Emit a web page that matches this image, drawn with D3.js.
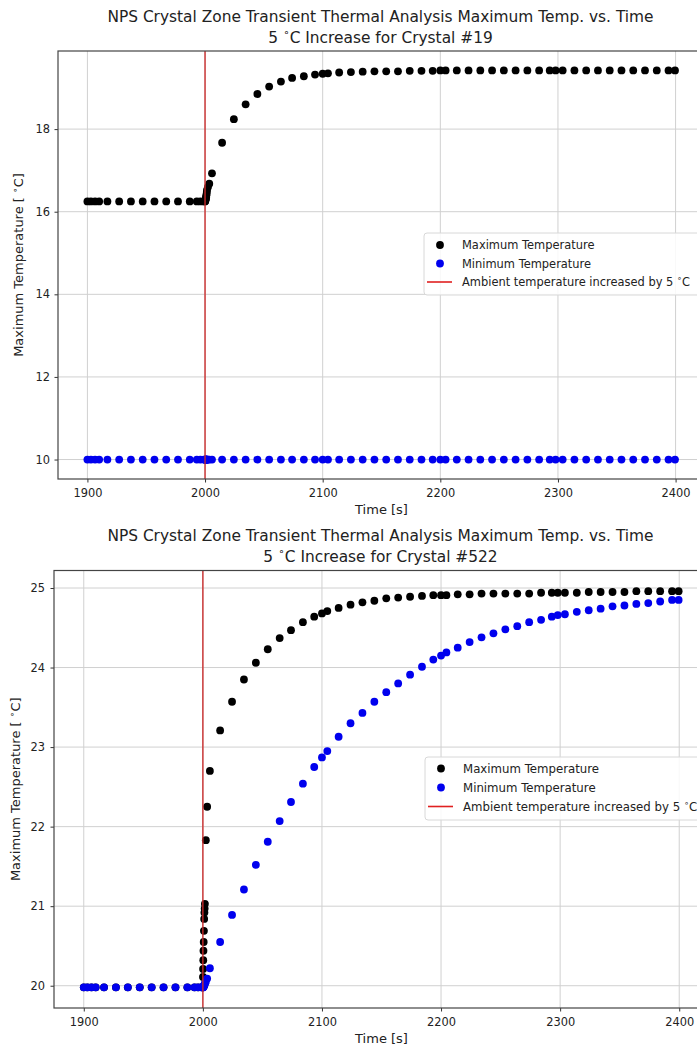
<!DOCTYPE html>
<html><head><meta charset="utf-8">
<script src="https://cdn.jsdelivr.net/npm/d3@7"></script>
<style>
html,body{margin:0;padding:0;background:#fff;}
svg{display:block;font-family:"DejaVu Sans",sans-serif;}
</style></head>
<body>
<svg id="chart" width="697" height="1048"></svg>
<script>
// ---------- data ----------
const times = [
1900, 1903, 1906.5, 1910, 1917, 1927, 1937, 1947, 1957, 1967, 1977, 1987, 1993, 1996, 1999,
2000, 2000.1, 2000.2, 2000.35, 2000.5, 2000.7, 2000.9, 2001.1, 2001.3, 2001.5, 2001.7, 2002.5, 2003.6, 2005.9, 2014.5, 2024.5, 2034.5, 2044.5, 2054.5, 2064.5, 2074, 2084, 2093.5,
2100, 2104.5, 2114, 2124, 2134, 2144, 2154, 2164, 2174, 2184, 2193.5,
2200, 2204.5, 2214, 2224, 2234, 2244, 2254, 2264, 2274, 2284, 2293, 2298,
2304, 2314, 2324, 2334, 2344, 2354, 2364, 2374, 2384, 2394, 2399.5
];
const crystal19Max = [
16.25,16.25,16.25,16.25,16.25,16.25,16.25,16.25,16.25,16.25,16.25,16.25,16.25,16.25,16.25,
16.25,16.26,16.27,16.28,16.30,16.32,16.35,16.39,16.43,16.48,16.53,16.60,16.68,16.93,17.67,18.24,18.60,18.85,19.03,19.15,19.24,19.28,19.32,
19.34,19.35,19.37,19.38,19.39,19.40,19.40,19.40,19.41,19.41,19.41,
19.42,19.42,19.42,19.42,19.42,19.42,19.42,19.42,19.42,19.42,19.42,19.42,
19.42,19.42,19.42,19.42,19.42,19.42,19.42,19.42,19.42,19.42,19.42
];
const crystal19Min = [
10,10,10,10,10,10,10,10,10,10,10,10,10,10,10,
10,10,10,10,10,10,10,10,10,10,10,10,10,10,10,10,10,10,10,10,10,10,10,
10,10,10,10,10,10,10,10,10,10,10,
10,10,10,10,10,10,10,10,10,10,10,10,
10,10,10,10,10,10,10,10,10,10,10
];
const crystal522Max = [
19.98,19.98,19.98,19.98,19.98,19.98,19.98,19.98,19.98,19.98,19.98,19.98,19.98,19.98,19.98,
19.98,20.11,20.21,20.32,20.44,20.55,20.69,20.84,20.92,20.97,21.03,21.83,22.25,22.70,23.21,23.57,23.85,24.06,24.23,24.37,24.47,24.57,24.64,
24.68,24.71,24.75,24.79,24.82,24.84,24.87,24.88,24.89,24.90,24.91,
24.91,24.91,24.92,24.92,24.93,24.93,24.93,24.93,24.93,24.94,24.94,24.94,
24.94,24.94,24.95,24.95,24.95,24.95,24.96,24.96,24.96,24.96,24.96
];
const crystal522Min = [
19.98,19.98,19.98,19.98,19.98,19.98,19.98,19.98,19.98,19.98,19.98,19.98,19.98,19.98,19.98,
19.98,19.98,19.98,19.98,19.99,19.99,20.00,20.00,20.01,20.02,20.03,20.05,20.09,20.22,20.55,20.89,21.21,21.52,21.81,22.07,22.31,22.54,22.75,
22.87,22.95,23.13,23.30,23.43,23.57,23.69,23.80,23.91,24.01,24.10,
24.15,24.19,24.25,24.32,24.38,24.43,24.48,24.52,24.57,24.60,24.64,24.66,
24.67,24.70,24.72,24.74,24.77,24.78,24.80,24.81,24.83,24.85,24.85
];
const xTicks = [1900, 2000, 2100, 2200, 2300, 2400];
const yTicks19 = [10, 12, 14, 16, 18];
const yTicks522 = [20, 21, 22, 23, 24, 25];
const ambientStep = 2000;
const titleLine1 = "NPS Crystal Zone Transient Thermal Analysis Maximum Temp. vs. Time";
const crystals = ["#19", "#522"];
const legendLabels = ["Maximum Temperature", "Minimum Temperature", "Ambient temperature increased by 5"];

// ---------- drawing ----------
const svg = d3.select("#chart");
const FONT = "DejaVu Sans, sans-serif";

function degText(sel, fs, pre, post) {
  const up = fs * 0.42;
  sel.append("tspan").text(pre);
  sel.append("tspan").attr("font-size", fs * 0.7).attr("dy", -up).text("\u2218");
  sel.append("tspan").attr("dy", up).text(post);
}

function panel(cfg) {
  const x = d3.scaleLinear().domain([1875, 2425]).range([cfg.left, cfg.right]);
  const y = d3.scaleLinear().domain(cfg.yDomain).range([cfg.bottom, cfg.top]);
  const g = svg.append("g");

  // titles
  const cx = (cfg.left + cfg.right) / 2;
  const TFS = 15.4;
  g.append("text").attr("x", cx - 1).attr("y", cfg.titleY).attr("text-anchor", "middle")
    .attr("font-size", TFS).attr("fill", "#222").text(titleLine1);
  const t2 = g.append("text").attr("x", cx - 1).attr("y", cfg.titleY + 21).attr("text-anchor", "middle")
    .attr("font-size", TFS).attr("fill", "#222");
  degText(t2, TFS, "5 ", "C Increase for Crystal " + cfg.crystal);

  // grid
  g.append("g").selectAll("line").data(xTicks).join("line")
    .attr("x1", d => x(d)).attr("x2", d => x(d)).attr("y1", cfg.top).attr("y2", cfg.bottom)
    .attr("stroke", "#d0d0d0").attr("stroke-width", 1);
  g.append("g").selectAll("line").data(cfg.yTicks).join("line")
    .attr("y1", d => y(d)).attr("y2", d => y(d)).attr("x1", cfg.left).attr("x2", cfg.right)
    .attr("stroke", "#d0d0d0").attr("stroke-width", 1);

  // points
  const ptsMax = times.map((t, i) => [t, cfg.max[i]]);
  const ptsMin = times.map((t, i) => [t, cfg.min[i]]);
  g.append("g").selectAll("circle").data(ptsMax).join("circle")
    .attr("cx", d => x(d[0])).attr("cy", d => y(d[1])).attr("r", 3.9).attr("fill", "#000");
  g.append("g").selectAll("circle").data(ptsMin).join("circle")
    .attr("cx", d => x(d[0])).attr("cy", d => y(d[1])).attr("r", 3.9).attr("fill", "#0000ee");

  // ambient line
  g.append("line").attr("x1", x(ambientStep)).attr("x2", x(ambientStep))
    .attr("y1", cfg.top).attr("y2", cfg.bottom)
    .attr("stroke", "#cc2b2b").attr("stroke-width", 1.6).attr("opacity", 0.85);

  // axes
  const xa = g.append("g").attr("transform", `translate(0,${cfg.bottom})`)
    .call(d3.axisBottom(x).tickValues(xTicks).tickFormat(d3.format("d")).tickSize(3.5).tickPadding(cfg.xPad));
  const ya = g.append("g").attr("transform", `translate(${cfg.left},0)`)
    .call(d3.axisLeft(y).tickValues(cfg.yTicks).tickFormat(d3.format("d")).tickSize(3.5).tickPadding(cfg.yPad));
  [xa, ya].forEach(a => {
    a.select(".domain").remove();
    a.selectAll("text").attr("font-size", 11.4).attr("font-family", FONT).attr("fill", "#222");
    a.selectAll("line").attr("stroke", "#333");
  });
  // frame
  g.append("rect").attr("x", cfg.left).attr("y", cfg.top)
    .attr("width", cfg.right - cfg.left).attr("height", cfg.bottom - cfg.top)
    .attr("fill", "none").attr("stroke", "#444").attr("stroke-width", 1.2);

  // axis labels
  const AFS = 13;
  g.append("text").attr("x", cx).attr("y", cfg.bottom + 35).attr("text-anchor", "middle")
    .attr("font-size", AFS).attr("fill", "#222").text("Time [s]");
  const yl = g.append("text").attr("transform", `translate(${cfg.ylabX},${(cfg.top + cfg.bottom) / 2}) rotate(-90)`)
    .attr("text-anchor", "middle").attr("font-size", AFS).attr("fill", "#222");
  degText(yl, AFS, "Maximum Temperature [ ", "C]");

  // legend
  const L = cfg.legend;
  const LFS = L.fs;
  g.append("rect").attr("x", L.x).attr("y", L.y).attr("width", 300).attr("height", L.h)
    .attr("rx", 3).attr("fill", "#fff").attr("fill-opacity", 0.85)
    .attr("stroke", "#d8d8d8").attr("stroke-width", 1);
  const rows = [0, 1, 2];
  const lg = g.append("g").selectAll("g").data(rows).join("g")
    .attr("transform", d => `translate(${L.x},${L.y + L.first + d * L.step})`);
  lg.filter(d => d < 2).append("circle").attr("cx", 16).attr("cy", 0).attr("r", 3.9)
    .attr("fill", d => d === 0 ? "#000" : "#0000ee");
  lg.filter(d => d === 2).append("line").attr("x1", 3).attr("x2", 28).attr("y1", 0).attr("y2", 0)
    .attr("stroke", "#e02020").attr("stroke-width", 1.6);
  lg.each(function(d) {
    const t = d3.select(this).append("text").attr("x", 38).attr("y", 4.2)
      .attr("font-size", LFS).attr("fill", "#222");
    if (d < 2) t.text(legendLabels[d]);
    else degText(t, LFS, legendLabels[2] + " ", "C");
  });
}

panel({
  left: 58, right: 705, top: 51, bottom: 479,
  yDomain: [9.529, 19.891], yTicks: yTicks19,
  max: crystal19Max, min: crystal19Min, crystal: crystals[0],
  titleY: 21.5, ylabX: 23, xPad: 6.5, yPad: 4.5,
  legend: {x: 424, y: 233, h: 62, first: 12, step: 18.5, fs: 11.45}
});
panel({
  left: 54, right: 709, top: 570.5, bottom: 1008,
  yDomain: [19.72, 25.22], yTicks: yTicks522,
  max: crystal522Max, min: crystal522Min, crystal: crystals[1],
  titleY: 540.5, ylabX: 20, xPad: 6.5, yPad: 5.5,
  legend: {x: 425, y: 757, h: 63, first: 11.5, step: 19, fs: 11.75}
});
</script>
</body></html>
